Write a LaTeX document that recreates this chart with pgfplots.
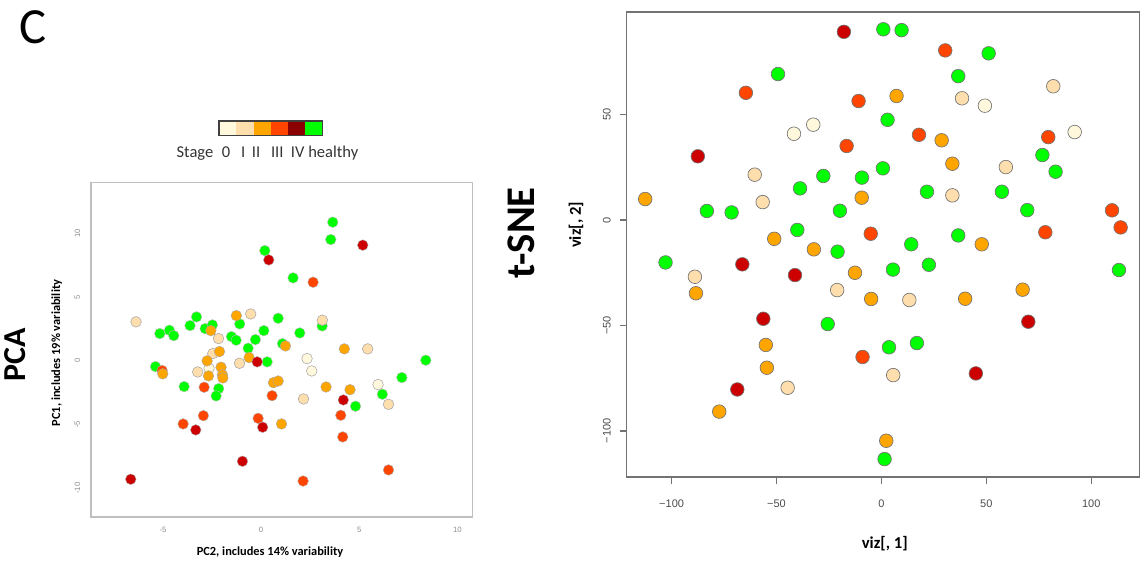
\documentclass[border=0pt]{standalone}
\usepackage{pgfplots}
\pgfplotsset{compat=1.18}
\usepackage{fontspec}
\setmainfont{Carlito}
\newfontfamily\arialf{Liberation Sans}
\definecolor{s0}{HTML}{FFF8DC}
\definecolor{s1}{HTML}{FFDEAD}
\definecolor{s2}{HTML}{FFA500}
\definecolor{s3}{HTML}{FF4500}
\definecolor{s4}{HTML}{CC0000}
\definecolor{s4l}{HTML}{8B0000}
\definecolor{hl}{HTML}{00FF00}
\begin{document}
\begin{tikzpicture}[x=0.75pt,y=-0.75pt]
\path[use as bounding box] (0,0) rectangle (1144,571);
% panel letter and titles
\node[anchor=base west,inner sep=0,font=\fontsize{38}{40}\selectfont] at (19,43.5) {C};
\node[rotate=90,font=\bfseries\fontsize{24}{26}\selectfont] at (15,355) {PCA};
\node[rotate=90,font=\bfseries\fontsize{30.5}{32}\selectfont] at (521,233) {t-SNE};
% legend colour bar
\foreach \c [count=\i from 0] in {s0,s1,s2,s3,s4l,hl}{
  \fill[\c] (219+\i*17.28,121) rectangle (219+\i*17.28+17.28,135.7);
}
\draw[black!75,line width=0.8pt] (219,121) rectangle (322.7,135.7);
\begin{scope}[font=\fontsize{12.4}{14}\selectfont, text=black!80]
\node[anchor=base] at (195,157) {Stage};
\node[anchor=base] at (226,157) {0};
\node[anchor=base] at (243.3,157) {I};
\node[anchor=base] at (256,157) {II};
\node[anchor=base] at (277.3,157) {III};
\node[anchor=base] at (297.7,157) {IV};
\node[anchor=base] at (333.3,157) {healthy};
\end{scope}
% PCA axis labels
\node[font=\bfseries\fontsize{9.3}{11}\selectfont] at (270,551.7) {PC2, includes 14\% variability};
\node[rotate=90,font=\bfseries\fontsize{9.3}{11}\selectfont] at (56.7,353) {PC1, includes 19\% variability};
% t-SNE axis labels
\node[font=\bfseries\fontsize{12.5}{14}\selectfont] at (884.8,543.6) {viz[, 1]};
\node[rotate=90,font=\bfseries\fontsize{12.5}{14}\selectfont] at (576,225) {viz[, 2]};

% ---------------- PCA ----------------
\begin{axis}[at={(68.03pt,-136.73pt)}, anchor=north west, scale only axis,
  width=286.2pt, height=250.8pt,
  xmin=-8.68, xmax=10.76, ymin=-12.24, ymax=14.0,
  axis line style={draw=black!25, line width=1.2pt},
  xtick={-5,0,5,10}, ytick={-10,-5,0,5,10},
  xticklabels={-5,0,5,10}, yticklabels={-10,-5,0,5,10},
  major tick length=0pt,
  tick label style={font=\arialf\fontsize{5.8}{6}\selectfont, text=black!45},
  xticklabel style={anchor=center, yshift=-9.5pt},
  yticklabel style={xshift=-10pt, rotate=90, anchor=center},
  every axis plot/.append style={only marks, mark=*, mark size=4pt},
]
\addplot[mark options={fill=hl, draw=black!25, line width=0.3pt}] coordinates {
(3.65,10.87) (3.55,9.51) (0.19,8.64) (1.63,6.50) (-5.16,2.13) (-4.67,2.39) (-4.45,1.97)
(-3.62,2.76) (-3.29,3.44) (-2.85,2.52) (-2.48,2.81) (-1.09,2.89) (-1.51,1.89) (-1.27,1.61)
(-0.66,0.98) (-0.29,1.66) (0.14,2.36) (0.87,3.33) (1.97,2.18) (1.09,1.34) (3.11,2.73)
(8.39,0.04) (0.31,-0.09) (-5.38,-0.46) (-3.92,-2.03) (-2.16,-2.19) (-2.29,-2.76)
(7.17,-1.32) (6.18,-2.63) (4.81,-3.57)
};
\addplot[mark options={fill=s0, draw=black!35, line width=0.4pt}] coordinates {
(2.34,0.17) (-2.65,-0.59) (2.58,-0.8) (5.96,-1.87)
};
\addplot[mark options={fill=s1, draw=black!35, line width=0.4pt}] coordinates {
(-6.37,3.05) (-2.17,1.74) (-0.53,3.67) (3.12,3.18) (5.43,0.93) (-2.46,0.56) (-1.1,-0.2)
(-3.23,-0.88) (6.49,-3.42) (2.16,-3.0)
};
\addplot[mark options={fill=s3, draw=black!30, line width=0.3pt}] coordinates {
(2.65,6.16) (-5.04,-0.77) (-2.9,-2.08) (0.56,-2.74) (-2.94,-4.31) (-3.97,-4.96)
(-0.15,-4.52) (4.06,-4.28) (4.16,-5.98) (6.49,-8.57) (2.14,-9.44)
};
\addplot[mark options={fill=s2, draw=black!35, line width=0.3pt}] coordinates {
(-2.56,2.36) (-1.26,3.54) (1.24,1.16) (4.24,0.93) (-2.12,0.72) (-2.75,-0.01) (-0.61,0.25)
(-5.01,-1.03) (-2.68,-1.19) (-2.04,-0.51) (-1.97,-1.11) (-1.95,-1.35) (0.63,-1.72)
(0.87,-1.59) (3.31,-2.06) (4.53,-2.27) (1.04,-4.96)
};
\addplot[mark options={fill=s4, draw=black!30, line width=0.3pt}] coordinates {
(5.18,9.07) (0.39,7.91) (-0.2,-0.09) (4.19,-3.08) (-3.33,-5.43) (0.08,-5.22)
(-0.95,-7.89) (-6.64,-9.3)
};
\end{axis}

% ---------------- t-SNE ----------------
\begin{axis}[at={(470.03pt,-9pt)}, anchor=north west, scale only axis,
  width=384.6pt, height=348.75pt,
  xmin=-121.4, xmax=123.0, ymin=-121.8, ymax=98.6,
  axis line style={draw=black!55, line width=0.8pt},
  xtick={-100,-50,0,50,100}, ytick={-100,-50,0,50},
  xticklabels={−100,−50,0,50,100}, yticklabels={−100,−50,0,50},
  xtick pos=bottom, ytick pos=left,
  tick align=outside, major tick length=5.25pt,
  tick style={draw=black!55, line width=0.8pt},
  tick label style={font=\arialf\fontsize{8.25}{9}\selectfont, text=black!70},
  xticklabel style={anchor=center, yshift=-14.5pt},
  yticklabel style={xshift=-9.75pt, rotate=90, anchor=center},
  every axis plot/.append style={only marks, mark=*, mark size=5.1pt},
]
\addplot[mark options={fill=hl, draw=black!55, line width=0.5pt}] coordinates {
(0.9,90.4) (9.6,90.0) (51.1,79.0) (-49.3,69.2) (36.6,68.2) (2.9,47.5) (-38.8,15.0)
(-27.7,20.9) (-9.3,20.1) (0.7,24.5) (76.7,30.8) (83.0,22.9) (-83.2,4.3) (-71.4,3.6)
(-19.8,4.4) (21.7,13.4) (57.4,13.4) (69.5,4.7) (-40.1,-4.7) (36.6,-7.3) (14.2,-11.5)
(-20.9,-15.0) (-102.9,-20.1) (5.5,-23.5) (22.6,-21.2) (113.2,-23.7) (-25.6,-49.3)
(3.6,-60.3) (16.9,-58.3) (1.5,-113.3)
};
\addplot[mark options={fill=s0, draw=black!55, line width=0.5pt}] coordinates {
(-41.7,40.9) (-32.5,45.2) (49.3,54.2) (92.1,41.7)
};
\addplot[mark options={fill=s1, draw=black!55, line width=0.5pt}] coordinates {
(81.9,63.4) (38.4,57.7) (-60.4,21.5) (-56.6,8.5) (59.3,25.1) (33.8,11.7) (-88.9,-26.9)
(-21.1,-33.2) (13.3,-37.9) (5.6,-73.5) (-44.7,-79.5)
};
\addplot[mark options={fill=s2, draw=black!55, line width=0.5pt}] coordinates {
(7.2,58.8) (28.7,37.8) (33.8,26.7) (-112.6,9.95) (-9.4,10.6) (-51.1,-8.9) (47.8,-11.5)
(-32.2,-13.9) (-12.6,-25.0) (-88.4,-34.7) (-4.9,-37.4) (39.9,-37.3) (67.3,-33.0)
(-55.1,-59.2) (-54.6,-70.0) (-77.3,-90.8) (2.3,-104.6)
};
\addplot[mark options={fill=s3, draw=black!55, line width=0.5pt}] coordinates {
(-64.6,60.3) (-10.9,56.4) (30.4,80.4) (-16.6,35.1) (17.9,40.4) (79.5,39.3) (-5.1,-6.5)
(109.9,4.6) (114.0,-3.5) (78.1,-5.8) (-9.0,-64.9)
};
\addplot[mark options={fill=s4, draw=black!55, line width=0.5pt}] coordinates {
(-17.9,89.2) (-87.5,30.2) (-66.3,-21.0) (-41.2,-26.1) (-56.3,-46.8) (-68.7,-80.3)
(70.0,-48.2) (45.0,-72.7)
};
\end{axis}
\end{tikzpicture}
\end{document}
